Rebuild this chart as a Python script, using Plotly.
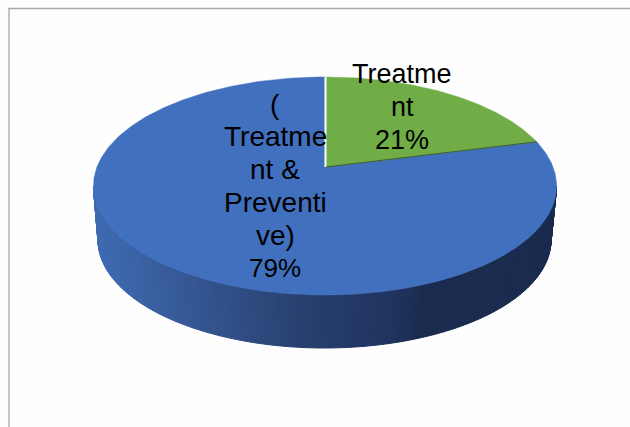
import math
import plotly.graph_objects as go

# Share of each treatment category
labels = ["(<br>Treatme<br>nt &<br>Preventi<br>ve)", "Treatme<br>nt"]
values = [79, 21]
slice_colors = ["#4170BE", "#70AD47"]
label_center_x = [275, 402]
label_first_line_y = [104, 74]
label_sizes = [28, 27]
percent_sizes = [26, 27]

# Side wall shading: pixel column -> colour
wall_x = [93, 200, 300, 400, 425, 556]
wall_rgb = [(63, 107, 178), (51, 84, 143), (40, 64, 111), (30, 50, 92), (26, 43, 79), (26, 43, 79)]

FRAME = "#a6a6a6"
LINE_STEP = 32.8

# Perspective projection of a tilted disc onto the page
CX, CY = 325.0, 167.0
APEX_X = 326.0
TILT = 0.1743
SPREAD_X = 228.0
SPREAD_Y = -76.6
BOTTOM_CX, BOTTOM_CY, BOTTOM_RX, BOTTOM_RY = 324.5, 240.0, 226.5, 108.0


def rim(angle):
    """Point on the top rim for a clockwise angle measured from 12 o'clock."""
    u, v = math.sin(angle), math.cos(angle)
    w = 1 + TILT * v
    return CX + SPREAD_X * u / w, (SPREAD_Y * v + CY) / w


def lower_rim(angle):
    return BOTTOM_CX + BOTTOM_RX * math.sin(angle), BOTTOM_CY - BOTTOM_RY * math.cos(angle)


def wall_color(x):
    for i in range(len(wall_x) - 1):
        if x <= wall_x[i + 1]:
            t = max(0.0, (x - wall_x[i]) / (wall_x[i + 1] - wall_x[i]))
            a, b = wall_rgb[i], wall_rgb[i + 1]
            return "rgb(%d,%d,%d)" % tuple(round(a[k] + (b[k] - a[k]) * t) for k in range(3))
    return "rgb(%d,%d,%d)" % wall_rgb[-1]


fig = go.Figure()

# Side wall, drawn as narrow strips so the shading runs left to right
widest = math.acos(-TILT)
steps = 220
for i in range(steps):
    a0 = widest + (2 * math.pi - 2 * widest) * i / steps
    a1 = widest + (2 * math.pi - 2 * widest) * (i + 1) / steps
    t0, t1 = rim(a0), rim(a1)
    b0, b1 = (lower_rim(math.pi + (a0 - math.pi) * (math.pi / 2) / (math.pi - widest)),
              lower_rim(math.pi + (a1 - math.pi) * (math.pi / 2) / (math.pi - widest)))
    color = wall_color((t0[0] + t1[0]) / 2)
    fig.add_trace(go.Scatter(
        x=[t0[0], t1[0], b1[0], b0[0], t0[0]],
        y=[t0[1], t1[1], b1[1], b0[1], t0[1]],
        mode="lines", fill="toself", fillcolor=color,
        line=dict(color=color, width=1), hoverinfo="skip", showlegend=False,
    ))

# Top face: slices run clockwise from 12 o'clock, smallest share first
total = sum(values)
spans = []
start = 0.0
for idx in (1, 0):
    end = start + 2 * math.pi * values[idx] / total
    spans.append((idx, start, end))
    start = end

for idx, a0, a1 in reversed(spans):
    n = 360
    pts = [rim(a0 + (a1 - a0) * k / n) for k in range(n + 1)]
    xs = [APEX_X] + [p[0] for p in pts] + [APEX_X]
    ys = [CY] + [p[1] for p in pts] + [CY]
    fig.add_trace(go.Scatter(
        x=xs, y=ys, mode="lines", fill="toself", fillcolor=slice_colors[idx],
        line=dict(color=slice_colors[idx], width=0.5), hoverinfo="skip", showlegend=False,
    ))

# Slice edges on the top face
edge_a = rim(0.0)
edge_b = rim(spans[0][2])
fig.add_trace(go.Scatter(x=[APEX_X - 0.5, APEX_X - 0.5], y=[CY, edge_a[1]], mode="lines",
                         line=dict(color="#ffffff", width=2), hoverinfo="skip", showlegend=False))
fig.add_trace(go.Scatter(x=[APEX_X, edge_b[0]], y=[CY, edge_b[1]], mode="lines",
                         line=dict(color="#3d5a33", width=1), hoverinfo="skip", showlegend=False))

# Data labels, one annotation per wrapped line
for name, val, cx, y0, size, pct_size in zip(labels, values, label_center_x, label_first_line_y,
                                             label_sizes, percent_sizes):
    parts = name.split("<br>")
    for row, part in enumerate(parts):
        fig.add_annotation(x=cx, y=y0 + row * LINE_STEP, text=part, showarrow=False,
                           font=dict(family="Liberation Sans", size=size, color="#000000"))
    fig.add_annotation(x=cx, y=y0 + len(parts) * LINE_STEP, text=f"{val}%", showarrow=False,
                       font=dict(family="Liberation Sans", size=pct_size, color="#000000"))

fig.update_layout(
    width=630, height=427,
    margin=dict(l=0, r=0, t=0, b=0),
    paper_bgcolor="#fefefe", plot_bgcolor="#fefefe",
    xaxis=dict(range=[0, 630], visible=False, fixedrange=True),
    yaxis=dict(range=[427, 0], visible=False, fixedrange=True),
    shapes=[
        dict(type="line", x0=8.5, y0=8.5, x1=630, y1=8.5, line=dict(color=FRAME, width=1.3)),
        dict(type="line", x0=9, y0=8, x1=9, y1=427, line=dict(color=FRAME, width=1.3)),
    ],
)

fig.write_html("out.html")
